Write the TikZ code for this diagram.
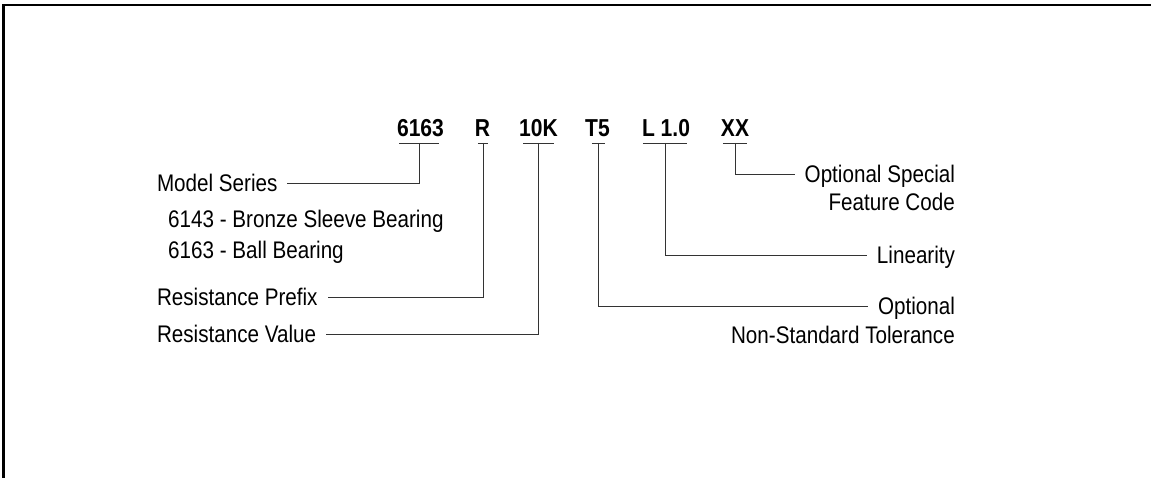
\documentclass[tikz,border=0pt]{standalone}
\usepackage{fontspec}
\setmainfont{Liberation Sans}[FakeStretch=0.86]
\newfontfamily\codefont{Liberation Sans}[FakeStretch=0.86]
\begin{document}
\begin{tikzpicture}[x=1pt,y=-1pt,
  lbl/.style={font=\fontsize{24}{28}\selectfont, inner sep=0pt, outer xsep=10pt, text height=16.5pt, text depth=0pt},
  plain/.style={font=\fontsize{24}{28}\selectfont, inner sep=0pt, text height=16.5pt, text depth=0pt},
  code/.style={font=\fontsize{24.5}{28}\selectfont\codefont\bfseries, inner sep=0pt, text height=17pt, text depth=0pt},
  uline/.style={inner sep=0pt, minimum height=0pt},
  conn/.style={draw=black!80, line width=0.9pt},
  frame/.style={line width=2.7pt}]
\path[use as bounding box] (0,0) rectangle (1151,478);
\clip (0,0) rectangle (1151,478);
% frame (top and left edges visible)
\coordinate (fbl) at (3.7,490);
\coordinate (ftl) at (3.7,5);
\coordinate (ftr) at (1170,5);
\draw[frame] (fbl) -- (ftl) -- (ftr);

% codes
\node[code] (c1) at (420.5,128) {6163};
\node[code] (c2) at (482.5,128) {R};
\node[code] (c3) at (538.5,128) {10K};
\node[code] (c4) at (597.5,128) {T5};
\node[code] (c5) at (666,128) {L 1.0};
\node[code] (c6) at (735,128) {XX};

% underlines
\node[uline, minimum width=39pt] (u1) at (419,143) {};
\node[uline, minimum width=10pt] (u2) at (483,143) {};
\node[uline, minimum width=30pt] (u3) at (538.5,143) {};
\node[uline, minimum width=13pt] (u4) at (598.5,143) {};
\node[uline, minimum width=44pt] (u5) at (665,143) {};
\node[uline, minimum width=24pt] (u6) at (735,143) {};
\foreach \u in {u1,u2,u3,u4,u5,u6}{\draw[conn] (\u.west) -- (\u.east);}

% left labels
\node[lbl, anchor=west] (ms) at (147,183.3) {Model Series};
\node[plain, anchor=west] (b1) at (168,219.5) {6143 - Bronze Sleeve Bearing};
\node[plain, anchor=west] (b2) at (168,250.5) {6163 - Ball Bearing};
\node[lbl, anchor=west] (rp) at (147,297) {Resistance Prefix};
\node[lbl, anchor=west] (rv) at (147,334) {Resistance Value};

% right labels
\node[lbl, anchor=east] (os) at (965,174.3) {Optional Special};
\node[plain, anchor=east] (fc) at (955,202.5) {Feature Code};
\node[lbl, anchor=east] (li) at (965,255) {Linearity};
\node[lbl, anchor=east] (op) at (965,306) {Optional};
\node[plain, anchor=east] (ns) at (955,335) {Non-Standard Tolerance};

% connectors
\draw[conn] (u1.center) |- (ms.east);
\draw[conn] (u2.center) |- (rp.east);
\draw[conn] (u3.center) |- (rv.east);
\draw[conn] (u4.center) |- (op.west);
\draw[conn] (u5.center) |- (li.west);
\draw[conn] (u6.center) |- (os.west);
\end{tikzpicture}
\end{document}
